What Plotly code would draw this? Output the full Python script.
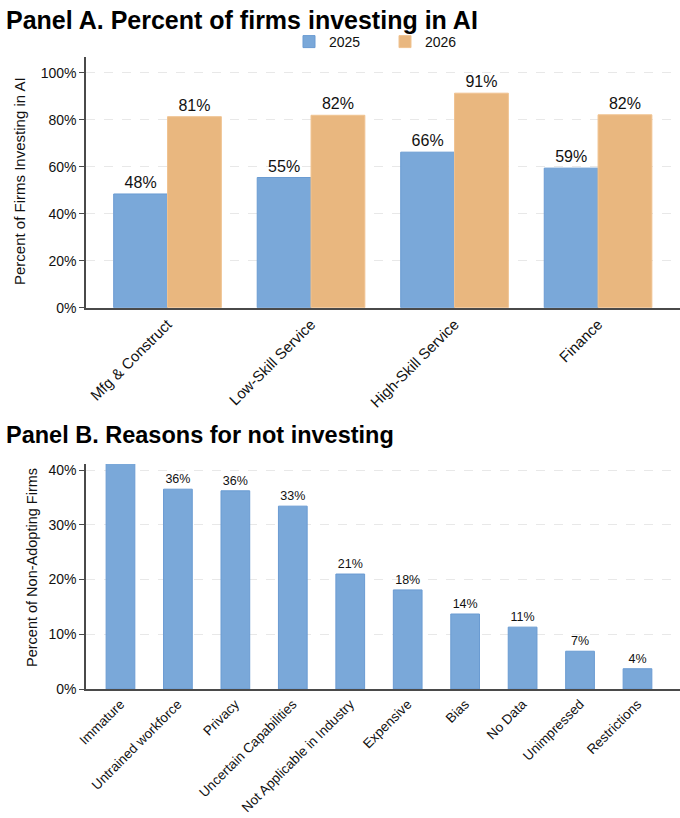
import plotly.graph_objects as go

# ---- Data ----
sectors = ["Mfg & Construct", "Low-Skill Service", "High-Skill Service", "Finance"]
invest_2025 = [48.4, 55.4, 66.2, 59.4]
invest_2026 = [81.3, 81.9, 91.3, 82.1]

reasons = ["Immature", "Untrained workforce", "Privacy", "Uncertain Capabilities",
           "Not Applicable in Industry", "Expensive", "Bias", "No Data",
           "Unimpressed", "Restrictions"]
reason_pct = [45.0, 36.5, 36.2, 33.4, 21.0, 18.1, 13.7, 11.3, 6.9, 3.7]

A_YMAX = 106.7
B_YMAX = 41.1

BLUE = "#7aa8d9"
BLUE_EDGE = "#6a9bd2"
ORANGE = "#e9b77f"
ORANGE_EDGE = "#f0c391"
FONT = "Liberation Sans, Arial, sans-serif"

# layout geometry (pixels)
W, H = 680, 818
L, R, T, B = 86, 0, 57, 129
ph = H - T - B
pw = W - L - R

def py(y):
    return (H - B - y) / ph

def px(x):
    return (x - L) / pw

fig = go.Figure()

fig.add_trace(go.Bar(
    x=sectors, y=invest_2025, name="2025",
    marker=dict(color=BLUE, line=dict(color=BLUE_EDGE, width=1)),
    text=[f"{v:.0f}%" for v in invest_2025], textposition="outside",
    textfont=dict(size=16, color="#111", family=FONT),
    xaxis="x", yaxis="y", cliponaxis=False,
))
fig.add_trace(go.Bar(
    x=sectors, y=invest_2026, name="2026",
    marker=dict(color=ORANGE, line=dict(color=ORANGE_EDGE, width=1)),
    text=[f"{v:.0f}%" for v in invest_2026], textposition="outside",
    textfont=dict(size=16, color="#111", family=FONT),
    xaxis="x", yaxis="y", cliponaxis=False,
))
fig.add_trace(go.Bar(
    x=reasons, y=reason_pct, name="reasons", showlegend=False,
    marker=dict(color=BLUE, line=dict(color=BLUE_EDGE, width=1)),
    text=[f"{v:.0f}%" if v <= B_YMAX else "" for v in reason_pct],
    textposition="outside",
    textfont=dict(size=12.5, color="#111", family=FONT),
    xaxis="x2", yaxis="y2", cliponaxis=True, width=0.5,
))

axis_common = dict(showline=True, linecolor="#4a4a4a", automargin=False, zeroline=False)

fig.update_layout(
    width=W, height=H,
    margin=dict(l=L, r=R, t=T, b=B, pad=0),
    paper_bgcolor="white", plot_bgcolor="white",
    font=dict(family=FONT, color="#111", size=14),
    barmode="group", bargap=0.25, bargroupgap=0,
    xaxis=dict(domain=[0, 1], anchor="y", range=[-0.568, 3.571], tickangle=-45,
               showgrid=False, ticks="", linewidth=2, tickfont=dict(size=15),
               **axis_common),
    yaxis=dict(domain=[py(307.7), 1], anchor="x", range=[0, A_YMAX],
               tickvals=[0, 20, 40, 60, 80, 100], ticktext=["0%", "20%", "40%", "60%", "80%", "100%"],
               ticks="outside", ticklen=5, tickcolor="#4a4a4a", linewidth=1.5,
               showgrid=True, gridcolor="#e8e8e8", griddash="dash", gridwidth=1,
               tickfont=dict(size=14), **axis_common),
    xaxis2=dict(domain=[0, 1], anchor="y2", range=[-0.6, 9.74], tickangle=-45,
                showgrid=False, ticks="", linewidth=2, tickfont=dict(size=13.5),
                **axis_common),
    yaxis2=dict(domain=[0, py(464)], anchor="x2", range=[0, B_YMAX],
                tickvals=[0, 10, 20, 30, 40], ticktext=["0%", "10%", "20%", "30%", "40%"],
                ticks="outside", ticklen=5, tickcolor="#4a4a4a", linewidth=1.5,
                showgrid=True, gridcolor="#e8e8e8", griddash="dash", gridwidth=1,
                tickfont=dict(size=14), **axis_common),
    legend=dict(orientation="h", x=px(289), y=py(42), xanchor="left", yanchor="middle",
                font=dict(size=14), itemwidth=30, entrywidth=51, tracegroupgap=0,
                bgcolor="rgba(0,0,0,0)"),
    annotations=[
        dict(text="<b>Panel A. Percent of firms investing in AI</b>", xref="paper", yref="paper",
             x=px(4), y=py(20), xanchor="left", yanchor="middle", showarrow=False,
             font=dict(size=25, color="#000", family=FONT)),
        dict(text="<b>Panel B. Reasons for not investing</b>", xref="paper", yref="paper",
             x=px(4), y=py(435), xanchor="left", yanchor="middle", showarrow=False,
             font=dict(size=23.5, color="#000", family=FONT)),
        dict(text="Percent of Firms Investing in AI", xref="paper", yref="paper",
             x=px(19), y=py(181), xanchor="center", yanchor="middle", showarrow=False,
             textangle=-90, font=dict(size=15, color="#111", family=FONT)),
        dict(text="Percent of Non-Adopting Firms", xref="paper", yref="paper",
             x=px(32), y=py(568), xanchor="center", yanchor="middle", showarrow=False,
             textangle=-90, font=dict(size=14.5, color="#111", family=FONT)),
    ],
)

fig.write_html("out.html")
